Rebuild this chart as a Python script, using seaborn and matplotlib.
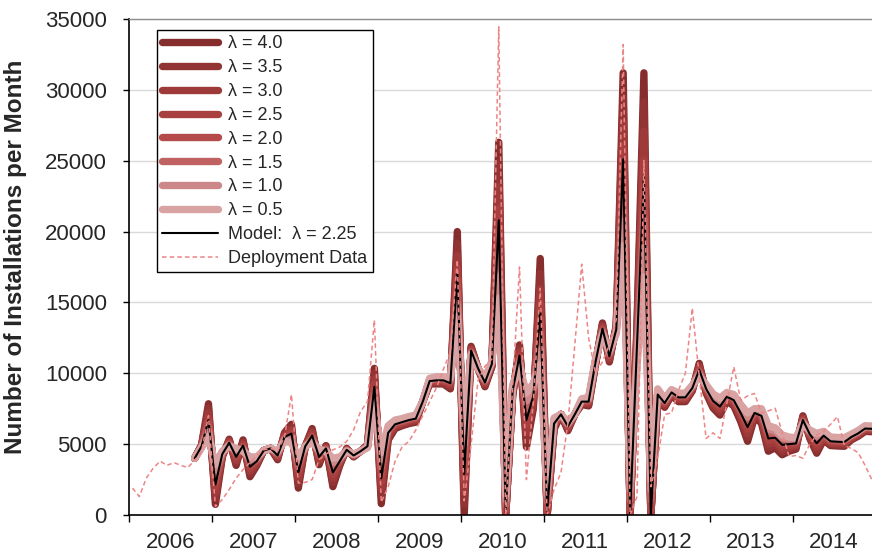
import numpy as np
import pandas as pd
import matplotlib
matplotlib.use("Agg")
import matplotlib.pyplot as plt
import seaborn as sns

# === Data (one value per month from Jan 2006) === #
deploy_months = list(range(0, 108))
deployment = [
    1900, 1300, 2600, 3300, 3800, 3500, 3700, 3500, 3350, 3850,
    4500, 7000, 600, 1100, 1800, 2600, 3200, 3700, 4200, 4600,
    4700, 4500, 5500, 8500, 2250, 2300, 2500, 3900, 4300, 4600,
    4800, 5200, 6000, 7300, 8000, 13750, 900, 2000, 3800, 4800,
    5200, 6000, 7000, 8000, 9000, 10300, 11500, 18000, 1000, 5000,
    9500, 10500, 11000, 34450, 0, 9000, 17500, 2500, 8000, 16000,
    0, 1800, 3000, 6500, 12000, 17700, 12500, 10000, 10800, 12000,
    13800, 33200, 0, 1300, 25000, 2000, 4000, 7100, 7200, 8800,
    10000, 14600, 9800, 5400, 5800, 5400, 7900, 10460, 8100, 8400,
    8580, 7200, 7350, 7530, 5800, 4120, 4200, 4000, 5000, 5640,
    5900, 6400, 6940, 4900, 4700, 4400, 3500, 2470,
]

model_months = list(range(9, 108))
model_225 = [
    4000, 4850, 6700, 2150, 4300, 5100, 4100, 4900, 3400, 3800,
    4550, 4700, 4200, 5500, 5750, 3000, 4850, 5600, 4100, 4700,
    3000, 3800, 4600, 4200, 4500, 4850, 9050, 2600, 5800, 6400,
    6550, 6700, 6800, 8000, 9450, 9500, 9500, 9300, 17000, 2900,
    11600, 10350, 9350, 10650, 20800, 200, 8750, 11250, 6700, 8400,
    14350, 300, 6450, 7100, 6250, 7100, 8000, 8000, 10800, 13150,
    11200, 13100, 25100, 0, 12000, 24000, 0, 8500, 7900, 8650,
    8300, 8300, 8950, 10250, 8900, 8050, 7650, 8350, 8100, 7200,
    6200, 7200, 7000, 5400, 5450, 4950, 5000, 5050, 6700, 5700,
    5060, 5600, 5200, 5170, 5150, 5500, 5760, 6100, 6080,
]

lam_4_0 = [
    4000, 4950, 7850, 750, 4100, 5350, 3500, 5300, 2700, 3500,
    4550, 4700, 3900, 5800, 6400, 1900, 4850, 6100, 3550, 4900,
    2000, 3500, 4700, 4100, 4500, 4950, 10350, 800, 5300, 6100,
    6300, 6450, 6550, 8000, 9250, 9250, 9250, 8900, 20000, 0,
    11900, 10350, 9050, 10450, 26300, 0, 8350, 12000, 4800, 7500,
    18100, 0, 6050, 7100, 5950, 7100, 7800, 7700, 10600, 13550,
    10800, 13400, 31200, 0, 13500, 31200, 0, 8100, 7600, 8450,
    8000, 8000, 8750, 10700, 8600, 7550, 7050, 8050, 7700, 6600,
    5200, 6900, 6500, 4500, 4750, 4250, 4500, 4650, 7000, 5400,
    4360, 5300, 4900, 4870, 4850, 5300, 5560, 5900, 5880,
]
lam_3_5 = [
    4000, 4920, 7520, 1150, 4160, 5280, 3670, 5190, 2900, 3590,
    4550, 4700, 3990, 5710, 6210, 2210, 4850, 5960, 3710, 4840,
    2290, 3590, 4670, 4130, 4500, 4920, 9980, 1310, 5440, 6190,
    6370, 6520, 6620, 8000, 9310, 9320, 9320, 9010, 19140, 760,
    11810, 10350, 9140, 10510, 24730, 0, 8460, 11790, 5340, 7760,
    17030, 0, 6160, 7100, 6040, 7100, 7860, 7790, 10660, 13440,
    10910, 13310, 29460, 0, 13070, 29140, 0, 8210, 7690, 8510,
    8090, 8090, 8810, 10570, 8690, 7690, 7220, 8140, 7810, 6770,
    5490, 6990, 6640, 4760, 4950, 4450, 4640, 4760, 6910, 5490,
    4560, 5390, 4990, 4960, 4940, 5360, 5620, 5960, 5940,
]
lam_3_0 = [
    4000, 4890, 7190, 1550, 4210, 5210, 3840, 5070, 3100, 3670,
    4550, 4700, 4070, 5630, 6030, 2530, 4850, 5810, 3860, 4790,
    2570, 3670, 4640, 4160, 4500, 4890, 9610, 1830, 5590, 6270,
    6440, 6590, 6690, 8000, 9360, 9390, 9390, 9130, 18290, 1610,
    11730, 10350, 9220, 10560, 23160, 0, 8580, 11570, 5880, 8010,
    15960, 0, 6280, 7100, 6120, 7100, 7910, 7870, 10710, 13320,
    11030, 13230, 27720, 0, 12640, 27090, 0, 8330, 7770, 8560,
    8170, 8170, 8860, 10440, 8770, 7840, 7390, 8220, 7930, 6940,
    5770, 7070, 6790, 5010, 5150, 4650, 4790, 4880, 6830, 5570,
    4760, 5470, 5070, 5040, 5020, 5410, 5670, 6010, 5990,
]
lam_2_5 = [
    4000, 4860, 6860, 1950, 4270, 5140, 4010, 4960, 3300, 3760,
    4550, 4700, 4160, 5540, 5840, 2840, 4850, 5670, 4020, 4730,
    2860, 3760, 4610, 4190, 4500, 4860, 9240, 2340, 5730, 6360,
    6510, 6660, 6760, 8000, 9420, 9460, 9460, 9240, 17430, 2470,
    11640, 10350, 9310, 10620, 21590, 30, 8690, 11360, 6430, 8270,
    14890, 90, 6390, 7100, 6210, 7100, 7970, 7960, 10770, 13210,
    11140, 13140, 25970, 0, 12210, 25030, 0, 8440, 7860, 8620,
    8260, 8260, 8920, 10310, 8860, 7980, 7560, 8310, 8040, 7110,
    6060, 7160, 6930, 5270, 5350, 4850, 4930, 4990, 6740, 5660,
    4960, 5560, 5160, 5130, 5110, 5470, 5730, 6070, 6050,
]
lam_2_0 = [
    4000, 4840, 6540, 2350, 4330, 5060, 4190, 4840, 3500, 3840,
    4550, 4700, 4240, 5460, 5660, 3160, 4850, 5530, 4180, 4670,
    3140, 3840, 4590, 4210, 4500, 4840, 8860, 2860, 5870, 6440,
    6590, 6740, 6840, 8000, 9480, 9540, 9540, 9360, 16570, 3330,
    11560, 10350, 9390, 10680, 20010, 370, 8810, 11140, 6970, 8530,
    13810, 510, 6510, 7100, 6290, 7100, 8030, 8040, 10830, 13090,
    11260, 13060, 24230, 360, 11790, 22970, 360, 8560, 7940, 8680,
    8340, 8340, 8980, 10190, 8940, 8120, 7740, 8390, 8160, 7290,
    6340, 7240, 7070, 5530, 5550, 5050, 5070, 5110, 6660, 5740,
    5160, 5640, 5240, 5210, 5190, 5530, 5790, 6130, 6110,
]
lam_1_5 = [
    4000, 4810, 6210, 2750, 4390, 4990, 4360, 4730, 3700, 3930,
    4550, 4700, 4330, 5370, 5470, 3470, 4850, 5390, 4340, 4610,
    3430, 3930, 4560, 4240, 4500, 4810, 8490, 3370, 6010, 6530,
    6660, 6810, 6910, 8000, 9540, 9610, 9610, 9470, 15710, 4190,
    11470, 10350, 9480, 10740, 18440, 710, 8920, 10930, 7520, 8790,
    12740, 940, 6620, 7100, 6380, 7100, 8090, 8130, 10890, 12980,
    11370, 12970, 22480, 1070, 11360, 20910, 1070, 8670, 8030, 8740,
    8430, 8430, 9040, 10060, 9030, 8260, 7910, 8480, 8270, 7460,
    6630, 7330, 7210, 5790, 5750, 5250, 5210, 5220, 6570, 5830,
    5360, 5730, 5330, 5300, 5280, 5590, 5850, 6190, 6170,
]
lam_1_0 = [
    4000, 4780, 5880, 3150, 4440, 4920, 4530, 4610, 3900, 4010,
    4550, 4700, 4410, 5290, 5290, 3790, 4850, 5240, 4490, 4560,
    3710, 4010, 4530, 4270, 4500, 4780, 8120, 3890, 6160, 6610,
    6730, 6880, 6980, 8000, 9590, 9680, 9680, 9590, 14860, 5040,
    11390, 10350, 9560, 10790, 16870, 1060, 9040, 10710, 8060, 9040,
    11670, 1370, 6740, 7100, 6460, 7100, 8140, 8210, 10940, 12860,
    11490, 12890, 20740, 1790, 10930, 18860, 1790, 8790, 8110, 8790,
    8510, 8510, 9090, 9930, 9110, 8410, 8080, 8560, 8390, 7630,
    6910, 7410, 7360, 6040, 5950, 5450, 5360, 5340, 6490, 5910,
    5560, 5810, 5410, 5380, 5360, 5640, 5900, 6240, 6220,
]
lam_0_5 = [
    4000, 4750, 5550, 3550, 4500, 4850, 4700, 4500, 4100, 4100,
    4550, 4700, 4500, 5200, 5100, 4100, 4850, 5100, 4650, 4500,
    4000, 4100, 4500, 4300, 4500, 4750, 7750, 4400, 6300, 6700,
    6800, 6950, 7050, 8000, 9650, 9750, 9750, 9700, 14000, 5900,
    11300, 10350, 9650, 10850, 15300, 1400, 9150, 10500, 8600, 9300,
    10600, 1800, 6850, 7100, 6550, 7100, 8200, 8300, 11000, 12750,
    11600, 12800, 19000, 2500, 10500, 16800, 2500, 8900, 8200, 8850,
    8600, 8600, 9150, 9800, 9200, 8550, 8250, 8650, 8500, 7800,
    7200, 7500, 7500, 6300, 6150, 5650, 5500, 5450, 6400, 6000,
    5760, 5900, 5500, 5470, 5450, 5700, 5960, 6300, 6280,
]

lam_labels = ["λ = 4.0", "λ = 3.5", "λ = 3.0", "λ = 2.5",
              "λ = 2.0", "λ = 1.5", "λ = 1.0", "λ = 0.5"]
lam_series = [lam_4_0, lam_3_5, lam_3_0, lam_2_5, lam_2_0, lam_1_5, lam_1_0, lam_0_5]
lam_colors = ["#862e2e", "#933434", "#9f3a3a", "#a94040",
              "#b44a4a", "#c06262", "#cc8888", "#d9a3a3"]

year_labels = ["2006", "2007", "2008", "2009", "2010", "2011", "2012", "2013", "2014"]

# === Long table for seaborn === #
frames = []
for lab, vals in zip(lam_labels, lam_series):
    frames.append(pd.DataFrame({"month": model_months, "installs": vals, "lam": lab}))
lam_df = pd.concat(frames, ignore_index=True)

# === Plot === #
sns.set_theme(style="white")
plt.rcParams["font.family"] = ["Liberation Sans", "DejaVu Sans"]

fig = plt.figure(figsize=(8.72, 5.54), dpi=100)
ax = fig.add_axes([129 / 872, 39 / 554, 743 / 872, 496 / 554])

sns.lineplot(data=lam_df, x="month", y="installs", hue="lam", hue_order=lam_labels,
             palette=lam_colors, linewidth=5.3, solid_capstyle="round",
             solid_joinstyle="round", estimator=None, legend=False, ax=ax)
sns.lineplot(x=model_months, y=model_225, color="black", linewidth=1.5,
             estimator=None, ax=ax, label="Model:  λ = 2.25")
sns.lineplot(x=deploy_months, y=deployment, color="#ee8585", linewidth=1.1,
             linestyle=(0, (3, 2)), estimator=None, ax=ax, label="Deployment Data")

ax.set_xlim(-0.5, 107)
ax.set_ylim(0, 35000)
ax.set_yticks(np.arange(0, 35001, 5000))
ax.set_xticks(np.arange(-0.5, 107, 12))
ax.set_xticks(np.arange(5.5, 107, 12), minor=True)
ax.set_xticklabels([])
ax.set_xticklabels(year_labels, minor=True)
ax.tick_params(axis="x", which="major", direction="out", length=5, width=1, color="black", bottom=True)
ax.tick_params(axis="x", which="minor", length=0, pad=12, labelsize=16)
ax.tick_params(axis="y", direction="out", length=4, width=1, color="black", left=True, pad=12, labelsize=16)

ax.yaxis.grid(True, color="#d9d9d9", linewidth=1)
ax.set_axisbelow(True)
for side in ["left", "bottom"]:
    ax.spines[side].set_color("black")
    ax.spines[side].set_linewidth(1.2)
ax.spines["top"].set_color("#8c8c8c")
ax.spines["top"].set_linewidth(1)
ax.spines["right"].set_visible(False)

ax.set_xlabel("")
ax.set_ylabel("Number of Installations per Month", fontsize=17.5, fontweight="bold")
ax.yaxis.set_label_coords(-0.137, 0.52)

handles = ax.get_lines()[:10]
labels = lam_labels + ["Model:  λ = 2.25", "Deployment Data"]
leg = ax.legend(handles, labels, loc="upper left", bbox_to_anchor=(0.0377, 0.978),
                borderaxespad=0, fontsize=13, frameon=True, fancybox=False,
                framealpha=1, edgecolor="black", handlelength=3.1,
                handletextpad=0.55, labelspacing=0.38, borderpad=0.3)
leg.get_frame().set_linewidth(1)

fig.savefig("out.png", dpi=100)
